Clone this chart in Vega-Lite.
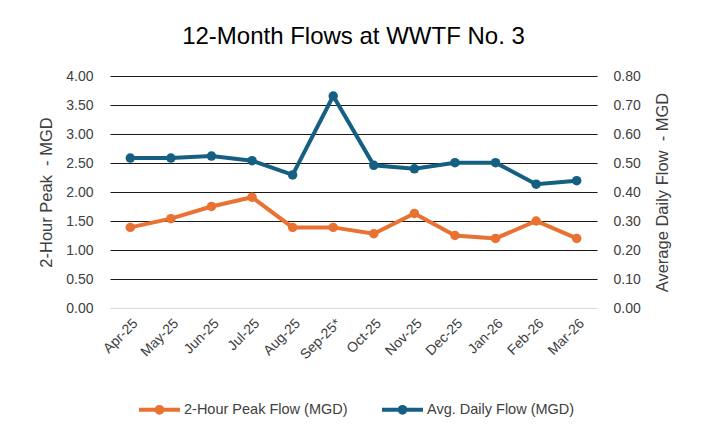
{
  "$schema": "https://vega.github.io/schema/vega-lite/v6.json",
  "width": 487,
  "height": 232,
  "autosize": {"type": "none"},
  "padding": {"left": 110, "top": 76, "right": 107, "bottom": 129},
  "background": "white",
  "title": {
    "text": "12-Month Flows at WWTF No. 3",
    "font": "Liberation Sans",
    "fontSize": 24,
    "fontWeight": "normal",
    "color": "#000000",
    "anchor": "middle",
    "frame": "group",
    "offset": 1,
    "baseline": "alphabetic"
  },
  "config": {
    "font": "Liberation Sans",
    "view": {"stroke": null},
    "axis": {
      "labelFont": "Liberation Sans",
      "labelFontSize": 14,
      "labelColor": "#404040",
      "titleFont": "Liberation Sans",
      "titleFontSize": 16.5,
      "titleFontWeight": "normal",
      "titleColor": "#404040",
      "ticks": false,
      "domain": false
    },
    "legend": {
      "labelFont": "Liberation Sans",
      "labelFontSize": 14.5,
      "labelColor": "#404040",
      "labelLimit": 400
    }
  },
  "data": {
    "values": [
      {"month": "Apr-25", "series": "2-Hour Peak Flow (MGD)", "value": 1.39},
      {"month": "May-25", "series": "2-Hour Peak Flow (MGD)", "value": 1.54},
      {"month": "Jun-25", "series": "2-Hour Peak Flow (MGD)", "value": 1.75},
      {"month": "Jul-25", "series": "2-Hour Peak Flow (MGD)", "value": 1.91},
      {"month": "Aug-25", "series": "2-Hour Peak Flow (MGD)", "value": 1.39},
      {"month": "Sep-25*", "series": "2-Hour Peak Flow (MGD)", "value": 1.39},
      {"month": "Oct-25", "series": "2-Hour Peak Flow (MGD)", "value": 1.28},
      {"month": "Nov-25", "series": "2-Hour Peak Flow (MGD)", "value": 1.63},
      {"month": "Dec-25", "series": "2-Hour Peak Flow (MGD)", "value": 1.25},
      {"month": "Jan-26", "series": "2-Hour Peak Flow (MGD)", "value": 1.2},
      {"month": "Feb-26", "series": "2-Hour Peak Flow (MGD)", "value": 1.5},
      {"month": "Mar-26", "series": "2-Hour Peak Flow (MGD)", "value": 1.2},
      {"month": "Apr-25", "series": "Avg. Daily Flow (MGD)", "value": 0.517},
      {"month": "May-25", "series": "Avg. Daily Flow (MGD)", "value": 0.517},
      {"month": "Jun-25", "series": "Avg. Daily Flow (MGD)", "value": 0.524},
      {"month": "Jul-25", "series": "Avg. Daily Flow (MGD)", "value": 0.508},
      {"month": "Aug-25", "series": "Avg. Daily Flow (MGD)", "value": 0.459},
      {"month": "Sep-25*", "series": "Avg. Daily Flow (MGD)", "value": 0.731},
      {"month": "Oct-25", "series": "Avg. Daily Flow (MGD)", "value": 0.492},
      {"month": "Nov-25", "series": "Avg. Daily Flow (MGD)", "value": 0.48},
      {"month": "Dec-25", "series": "Avg. Daily Flow (MGD)", "value": 0.501},
      {"month": "Jan-26", "series": "Avg. Daily Flow (MGD)", "value": 0.501},
      {"month": "Feb-26", "series": "Avg. Daily Flow (MGD)", "value": 0.427},
      {"month": "Mar-26", "series": "Avg. Daily Flow (MGD)", "value": 0.439}
    ]
  },
  "encoding": {
    "x": {
      "field": "month",
      "type": "nominal",
      "sort": null,
      "scale": {"type": "point", "padding": 0.5},
      "axis": {"title": null, "labelAngle": -45, "labelPadding": 8, "grid": false}
    },
    "color": {
      "field": "series",
      "type": "nominal",
      "scale": {
        "domain": ["2-Hour Peak Flow (MGD)", "Avg. Daily Flow (MGD)"],
        "range": ["#E97132", "#156082"]
      },
      "legend": {
        "title": null,
        "orient": "none",
        "legendX": 27,
        "legendY": 311,
        "direction": "horizontal",
        "columnPadding": 26,
        "labelOffset": 2,
        "symbolType": "M-1,0H1M-0.14,0A0.14,0.14,0,1,0,0.14,0A0.14,0.14,0,1,0,-0.14,0Z",
        "symbolSize": 1681,
        "symbolStrokeWidth": 4,
        "encode": {
          "symbols": {
            "update": {
              "fill": {"scale": "color", "field": "value"},
              "stroke": {"scale": "color", "field": "value"}
            }
          }
        }
      }
    }
  },
  "layer": [
    {
      "transform": [{"filter": "datum.series === '2-Hour Peak Flow (MGD)'"}],
      "mark": {"type": "line", "strokeWidth": 4, "point": {"filled": true, "size": 90, "opacity": 1}},
      "encoding": {
        "y": {
          "field": "value",
          "type": "quantitative",
          "scale": {"domain": [0, 4]},
          "axis": {
            "title": "2-Hour Peak \u00a0- MGD",
            "values": [0, 0.5, 1, 1.5, 2, 2.5, 3, 3.5, 4],
            "format": ".2f",
            "labelPadding": 17,
            "titlePadding": 11,
            "grid": true,
            "gridColor": {"condition": {"test": "datum.value === 0", "value": "#d9d9d9"}, "value": "#1a1a1a"},
            "gridWidth": 1
          }
        }
      }
    },
    {
      "transform": [{"filter": "datum.series === 'Avg. Daily Flow (MGD)'"}],
      "mark": {"type": "line", "strokeWidth": 4, "point": {"filled": true, "size": 90, "opacity": 1}},
      "encoding": {
        "y": {
          "field": "value",
          "type": "quantitative",
          "scale": {"domain": [0, 0.8]},
          "axis": {
            "title": "Average Daily Flow \u00a0- MGD",
            "orient": "right",
            "values": [0, 0.1, 0.2, 0.3, 0.4, 0.5, 0.6, 0.7, 0.8],
            "format": ".2f",
            "labelPadding": 16,
            "titlePadding": 14,
            "titleAngle": -90,
            "titleBaseline": "top",
            "grid": false
          }
        }
      }
    }
  ],
  "resolve": {"scale": {"y": "independent"}}
}
